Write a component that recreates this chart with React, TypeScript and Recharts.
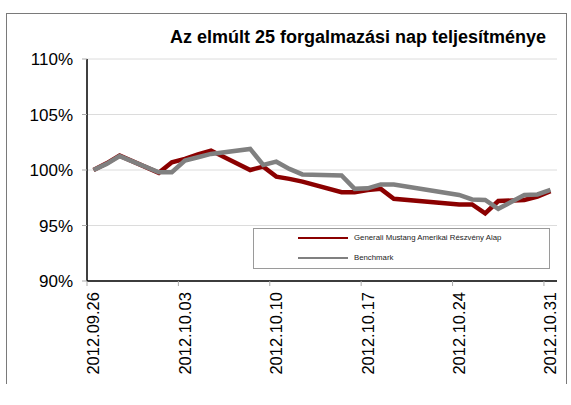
import { CartesianGrid, Line, LineChart, XAxis, YAxis } from "recharts";

// trading days, as day offsets from 2012.09.26
const dates = [
    "2012.09.26", "2012.09.27", "2012.09.28", "2012.10.01", "2012.10.02", "2012.10.03", "2012.10.04", "2012.10.05",
    "2012.10.08", "2012.10.09", "2012.10.10", "2012.10.11", "2012.10.12", "2012.10.15", "2012.10.16", "2012.10.17",
    "2012.10.18", "2012.10.19", "2012.10.24", "2012.10.25", "2012.10.26", "2012.10.27", "2012.10.29", "2012.10.30",
    "2012.10.31",
];
const dayOffsets = [0, 1, 2, 5, 6, 7, 8, 9, 12, 13, 14, 15, 16, 19, 20, 21, 22, 23, 28, 29, 30, 31, 33, 34, 35];
const fund = [100, 100.6, 101.3, 99.75, 100.7, 101.0, 101.4, 101.75, 100.0, 100.3, 99.4, 99.2, 98.95, 98.0, 98.0,
    98.2, 98.3, 97.4, 96.9, 96.9, 96.1, 97.2, 97.3, 97.6, 98.1];
const benchmark = [100, 100.55, 101.25, 99.8, 99.8, 100.85, 101.15, 101.45, 101.9, 100.45, 100.75, 100.1, 99.6, 99.5,
    98.3, 98.35, 98.7, 98.7, 97.75, 97.35, 97.3, 96.5, 97.75, 97.8, 98.2];

const tickDays = [0, 7, 14, 21, 28, 35];
const tickLabels = ["2012.09.26", "2012.10.03", "2012.10.10", "2012.10.17", "2012.10.24", "2012.10.31"];
const yTicks = [90, 95, 100, 105, 110];

const fundName = "Generali Mustang Amerikai Részvény Alap";
const benchName = "Benchmark";

const W = 571;
const H = 405;
const margin = { top: 59, right: 14, bottom: 0, left: 0 };
const yAxisWidth = 87;
const totalDays = 36;
const halfDay = (W - margin.right - yAxisWidth) / totalDays / 2;

const data = dates.map((d, i) => ({
    date: d,
    day: dayOffsets[i] + 0.5,
    fund: fund[i],
    benchmark: benchmark[i],
}));

const font = "'Liberation Sans', Arial, sans-serif";

const DateTick = ({ x, y, payload }: any) => {
    const idx = tickDays.indexOf(payload.value);
    const cx = x + halfDay;
    const cy = y + 4;
    return (
        <text x={cx} y={cy} dy="0.36em" transform={`rotate(-90, ${cx}, ${cy})`} textAnchor="end"
              fontSize={16.5} fontFamily={font} fill="#000">
            {tickLabels[idx]}
        </text>
    );
};

const LegendBox = () => (
    <div style={{
        position: "absolute", left: 253, top: 228, width: 297, height: 41,
        border: "1px solid #9a9a9a", background: "#fff", boxSizing: "border-box",
        fontFamily: font, fontSize: 7.8, color: "#222",
    }}>
        {[{ c: "#8b0000", t: fundName, top: 9 }, { c: "#808080", t: benchName, top: 29 }].map(e => (
            <div key={e.t} style={{ position: "absolute", left: 44, top: e.top - 5, display: "flex", alignItems: "center" }}>
                <div style={{ width: 50, height: 2.5, background: e.c }} />
                <span style={{ marginLeft: 6, lineHeight: "10px", whiteSpace: "nowrap" }}>{e.t}</span>
            </div>
        ))}
    </div>
);

export default function App() {
    return (
        <div style={{ position: "absolute", left: 0, top: 0, width: W, height: H, background: "#fff", overflow: "hidden" }}>
            <div style={{
                position: "absolute", left: 6, top: 13, width: 559, height: 370,
                borderTop: "1px solid #7a7a7a", borderLeft: "1px solid #7a7a7a", borderRight: "1px solid #7a7a7a",
            }} />
            <div style={{
                position: "absolute", left: 0, width: 716, top: 27, textAlign: "center",
                fontFamily: font, fontWeight: "bold", fontSize: 18, color: "#000", lineHeight: "20px",
            }}>
                Az elmúlt 25 forgalmazási nap teljesítménye
            </div>
            <div style={{ position: "absolute", left: 0, top: 0 }}>
                <LineChart width={W} height={H} data={data} margin={margin}>
                    <CartesianGrid vertical={false} stroke="#dcdcdc" strokeWidth={1} />
                    <XAxis dataKey="day" type="number" domain={[0, totalDays]} ticks={tickDays}
                           height={124} axisLine={{ stroke: "#000", strokeWidth: 1.5 }}
                           tickLine={{ stroke: "#aaa" }} tickSize={5} interval={0} tick={<DateTick />} />
                    <YAxis type="number" domain={[90, 110]} ticks={yTicks} width={yAxisWidth}
                           tickFormatter={(v: number) => `${v}%`} axisLine={{ stroke: "#000", strokeWidth: 1.5 }}
                           tickLine={{ stroke: "#aaa" }} tickSize={5} tickMargin={9}
                           tick={{ fontSize: 17, fontFamily: font, fill: "#000" }} />
                    <Line type="linear" dataKey="fund" name={fundName} stroke="#8b0000" strokeWidth={4.5}
                          dot={false} isAnimationActive={false} strokeLinejoin="miter" />
                    <Line type="linear" dataKey="benchmark" name={benchName} stroke="#808080" strokeWidth={4.5}
                          dot={false} isAnimationActive={false} strokeLinejoin="miter" />
                </LineChart>
            </div>
            <LegendBox />
        </div>
    );
}
